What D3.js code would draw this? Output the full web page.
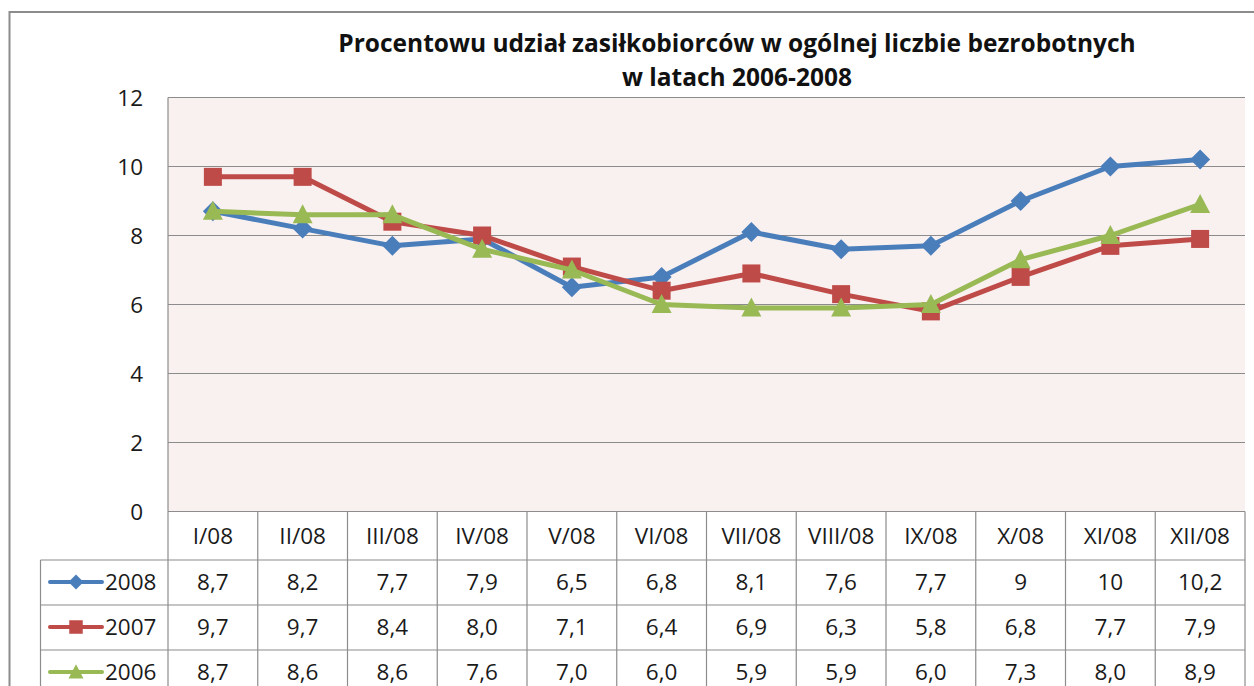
<!DOCTYPE html>
<html><head><meta charset="utf-8">
<script src="https://cdn.jsdelivr.net/npm/d3@7"></script>
<style>html,body{margin:0;padding:0;background:#fff;overflow:hidden}svg{display:block}</style>
</head><body>
<script>
const categories = ["I/08","II/08","III/08","IV/08","V/08","VI/08","VII/08","VIII/08","IX/08","X/08","XI/08","XII/08"];
const seriesNames = ["2008","2007","2006"];
const values2008 = [8.7,8.2,7.7,7.9,6.5,6.8,8.1,7.6,7.7,9,10,10.2];
const values2007 = [9.7,9.7,8.4,8.0,7.1,6.4,6.9,6.3,5.8,6.8,7.7,7.9];
const values2006 = [8.7,8.6,8.6,7.6,7.0,6.0,5.9,5.9,6.0,7.3,8.0,8.9];
const labels2008 = ["8,7","8,2","7,7","7,9","6,5","6,8","8,1","7,6","7,7","9","10","10,2"];
const labels2007 = ["9,7","9,7","8,4","8,0","7,1","6,4","6,9","6,3","5,8","6,8","7,7","7,9"];
const labels2006 = ["8,7","8,6","8,6","7,6","7,0","6,0","5,9","5,9","6,0","7,3","8,0","8,9"];
const yTicks = [0,2,4,6,8,10,12];
const titleLines = ["Procentowu udział zasiłkobiorców w ogólnej liczbie bezrobotnych","w latach 2006-2008"];
const colors = ["#4A7EBB","#BE4B48","#98B954"];

const W=1254,H=686;
const svg=d3.select("body").append("svg").attr("width",W).attr("height",H);
const font="'Open Sans', sans-serif";
const fs=22.5;
const txtC="#1a1a1a";

// outer frame
svg.append("rect").attr("x",9.5).attr("y",12).attr("width",1300).attr("height",800)
  .attr("fill","#fff").attr("stroke","#8c8c8c").attr("stroke-width",2);

const L=168,R=1245,T=97.5,B=511.5;
const x=d3.scaleBand().domain(categories).range([L,R]);
const y=d3.scaleLinear().domain([0,12]).range([B,T]);

svg.append("rect").attr("x",L).attr("y",T).attr("width",R-L).attr("height",B-T).attr("fill","#F9F0F0");

// gridlines
svg.append("g").selectAll("line").data(yTicks).join("line")
  .attr("x1",L).attr("x2",R).attr("y1",d=>y(d)).attr("y2",d=>y(d))
  .attr("stroke","#8c8c8c").attr("stroke-width",1.2);
svg.append("line").attr("x1",L).attr("x2",L).attr("y1",T).attr("y2",B).attr("stroke","#8c8c8c").attr("stroke-width",1.2);

// y axis labels
const yAxis=d3.axisLeft(y).tickValues(yTicks).tickSize(0).tickPadding(25).tickFormat(d3.format("d"));
const ya=svg.append("g").attr("transform",`translate(${L},0)`).call(yAxis);
ya.select(".domain").remove();
ya.selectAll("text").attr("font-family",font).attr("font-size",fs).attr("fill",txtC).attr("dy","0.37em");

// title
svg.append("g").selectAll("text").data(titleLines).join("text")
  .attr("x",737).attr("y",(d,i)=>52+i*34).attr("text-anchor","middle")
  .attr("font-family",font).attr("font-weight","bold").attr("font-size",24.5).attr("fill","#111")
  .text(d=>d);

// table
const tg=svg.append("g");
const gridC="#8c8c8c";
tg.append("line").attr("x1",L).attr("x2",R).attr("y1",B).attr("y2",B).attr("stroke",gridC).attr("stroke-width",1.2);
[560,605,650,695].forEach(v=>tg.append("line").attr("x1",40.5).attr("x2",R).attr("y1",v).attr("y2",v).attr("stroke",gridC).attr("stroke-width",1.2));
const cols=categories.map(c=>x(c)).concat([R]);
cols.forEach(cx=>tg.append("line").attr("x1",cx).attr("x2",cx).attr("y1",B).attr("y2",H).attr("stroke",gridC).attr("stroke-width",1.2));
tg.append("line").attr("x1",40.5).attr("x2",40.5).attr("y1",560).attr("y2",H).attr("stroke",gridC).attr("stroke-width",1.2);

tg.selectAll("text.cat").data(categories).join("text").attr("class","cat")
  .attr("x",d=>x(d)+x.bandwidth()/2).attr("y",543.5).attr("text-anchor","middle")
  .attr("font-family",font).attr("font-size",fs).attr("fill",txtC).text(d=>d);

const allLabels=[labels2008,labels2007,labels2006];
const allVals=[values2008,values2007,values2006];
allLabels.forEach((labs,r)=>{
  tg.selectAll("text.r"+r).data(labs).join("text").attr("class","r"+r)
    .attr("x",(d,i)=>x(categories[i])+x.bandwidth()/2).attr("y",590+r*45).attr("text-anchor","middle")
    .attr("font-family",font).attr("font-size",fs).attr("fill",txtC).text(d=>d);
});

function marker(g,type,cx,cy,color,s){
  if(type===0){
    g.append("path").attr("d",`M${cx},${cy-s}L${cx+s},${cy}L${cx},${cy+s}L${cx-s},${cy}Z`).attr("fill",color);
  } else if(type===1){
    const h=s*0.9;
    g.append("rect").attr("x",cx-h).attr("y",cy-h).attr("width",2*h).attr("height",2*h).attr("fill",color);
  } else {
    g.append("path").attr("d",`M${cx},${cy-s*1.05}L${cx+s},${cy+s*0.85}L${cx-s},${cy+s*0.85}Z`).attr("fill",color);
  }
}

// legend in table
seriesNames.forEach((s,r)=>{
  const cy=582+r*45;
  const lg=svg.append("g");
  lg.append("line").attr("x1",50).attr("x2",102).attr("y1",cy).attr("y2",cy).attr("stroke",colors[r]).attr("stroke-width",4).attr("stroke-linecap","round");
  marker(lg,r,76,cy,colors[r],7.5);
  lg.append("text").attr("x",105).attr("y",cy+8).attr("font-family",font).attr("font-size",fs).attr("fill",txtC).text(s);
});

// lines
const line=d3.line().x((d,i)=>x(categories[i])+x.bandwidth()/2).y(d=>y(d));
allVals.forEach((vals,r)=>{
  const g=svg.append("g");
  g.append("path").datum(vals).attr("d",line).attr("fill","none").attr("stroke",colors[r]).attr("stroke-width",5).attr("stroke-linejoin","round");
  vals.forEach((v,i)=>marker(g,r,x(categories[i])+x.bandwidth()/2,y(v),colors[r],10));
});
</script>
</body></html>
